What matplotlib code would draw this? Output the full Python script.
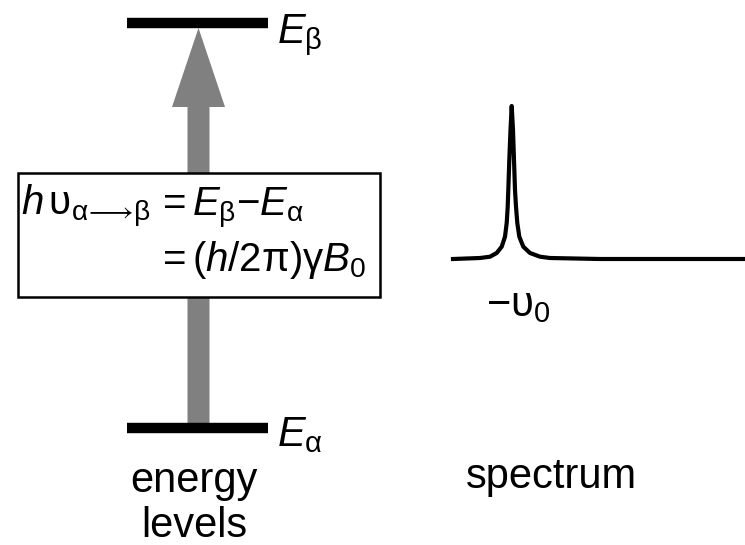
import numpy as np
import matplotlib
matplotlib.use('Agg')
import matplotlib.pyplot as plt
from matplotlib.patches import Rectangle, FancyArrow

plt.rcParams['font.family'] = ['Liberation Sans', 'DejaVu Sans']
plt.rcParams['mathtext.fontset'] = 'custom'
plt.rcParams['mathtext.rm'] = 'Liberation Sans'
plt.rcParams['mathtext.it'] = 'Liberation Sans:italic'
plt.rcParams['mathtext.bf'] = 'Liberation Sans:bold'

# energy levels (picture coords, y down)
level_names = ['E_beta', 'E_alpha']
level_y = [22.5, 428]
level_x = [127, 268]

# spectrum trace
spec_x = [453, 480, 490, 496.7, 501.7, 505, 506.7, 507.7, 508.3, 509.3, 510.5, 511.7,
          513, 514, 515, 516, 517.3, 519.3, 523.3, 530, 540, 550, 600, 745]
spec_y = [259, 258, 256.7, 253, 246.7, 236.7, 223, 206.7, 190, 160, 130, 106,
          130, 160, 190, 206.7, 223, 236.7, 246.7, 253, 256.7, 258, 259, 259]

fig = plt.figure(figsize=(7.45, 5.45), dpi=100)
ax = fig.add_axes([0, 0, 1, 1])
ax.set_xlim(0, 745)
ax.set_ylim(545, 0)
ax.axis('off')

# levels
for y in level_y:
    ax.plot(level_x, [y, y], color='black', lw=7.5, solid_capstyle='butt', zorder=3)

# gray arrow from lower to upper level
x_mid = 198.5
ax.add_patch(FancyArrow(x_mid, level_y[1], 0, -(level_y[1] - 28), width=22,
                        head_width=53, head_length=79, length_includes_head=True,
                        color='#808080', lw=0, zorder=1))

# level labels
ax.text(277, 43, r'$E_{\mathrm{β}}$', fontsize=30, va='baseline', ha='left')
ax.text(277, 446, r'$E_{\mathrm{α}}$', fontsize=30, va='baseline', ha='left')

# box with equations
ax.add_patch(Rectangle((18, 173), 362, 124, facecolor='white', edgecolor='black',
                       lw=1.8, zorder=2))
fs = 29
ax.text(21, 215, r'$h\,\mathrm{υ}_{\mathrm{α}\!\longrightarrow\!\mathrm{β}}$', fontsize=fs,
        va='baseline', zorder=4)
ax.text(163, 215, '=', fontsize=fs, va='baseline', zorder=4)
ax.text(192, 215, r'$E_{\mathrm{β}}$−$E_{\mathrm{α}}$', fontsize=fs, va='baseline', zorder=4)
ax.text(163, 271, '=', fontsize=fs, va='baseline', zorder=4)
ax.text(192, 271, r'$(h/2\mathrm{π})\mathrm{γ}B_0$', fontsize=fs, va='baseline', zorder=4)

# spectrum
ax.plot(spec_x, spec_y, color='black', lw=3, solid_joinstyle='round', zorder=3)
ax.text(486, 316, r'$-\mathrm{υ}_0$', fontsize=30, va='baseline', ha='left')

# captions
ax.text(194, 492, 'energy', fontsize=30, ha='center', va='baseline')
ax.text(194, 537, 'levels', fontsize=30, ha='center', va='baseline')
ax.text(551, 488, 'spectrum', fontsize=30, ha='center', va='baseline')

fig.savefig('out.png', dpi=100)
